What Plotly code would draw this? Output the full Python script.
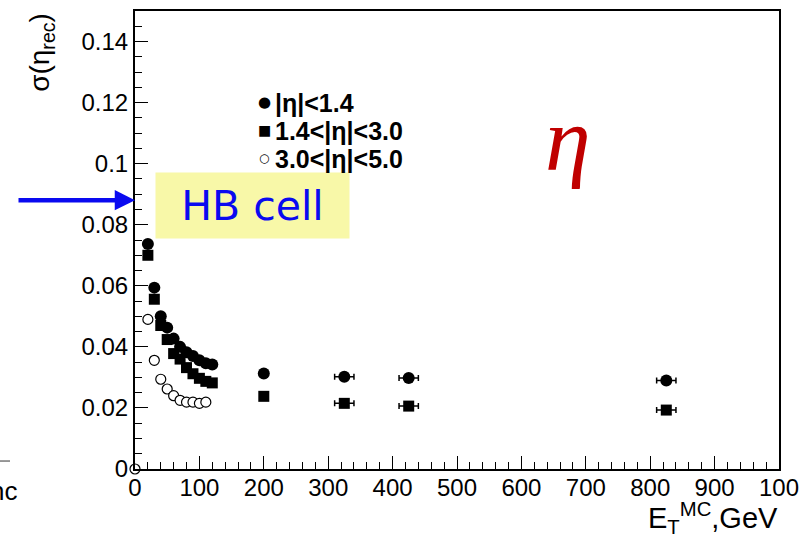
import plotly.graph_objects as go

# ---- data ----
et_central = [20, 30, 40, 50, 60, 70, 80, 90, 100, 110, 120, 200, 325, 425, 825]
sig_central = [0.0737, 0.0594, 0.0500, 0.0463, 0.0427, 0.0400, 0.0382, 0.0370, 0.0356, 0.0346, 0.0342,
               0.0313, 0.0302, 0.0298, 0.0290]
ex_central = [0, 0, 0, 0, 0, 0, 0, 0, 0, 0, 0, 4, 15, 15, 15]

et_endcap = [20, 30, 40, 50, 60, 70, 80, 90, 100, 110, 120, 200, 325, 425, 825]
sig_endcap = [0.0700, 0.0556, 0.0470, 0.0424, 0.0378, 0.0360, 0.0332, 0.0312, 0.0297, 0.0287, 0.0282,
              0.0238, 0.0215, 0.0206, 0.0193]
ex_endcap = [0, 0, 0, 0, 0, 0, 0, 0, 0, 0, 0, 4, 15, 15, 15]

et_forward = [0, 20, 30, 40, 50, 60, 70, 80, 90, 100, 110]
sig_forward = [0.0, 0.0490, 0.0356, 0.0294, 0.0262, 0.0240, 0.0225, 0.0219, 0.0219, 0.0215, 0.0219]

x_tickvals = [0, 100, 200, 300, 400, 500, 600, 700, 800, 900, 1000]
x_ticktext = ["0", "100", "200", "300", "400", "500", "600", "700", "800", "900", "100"]
y_tickvals = [0, 0.02, 0.04, 0.06, 0.08, 0.10, 0.12, 0.14]
y_ticktext = ["0", "0.02", "0.04", "0.06", "0.08", "0.1", "0.12", "0.14"]

legend_names = ["|η|<1.4", "1.4<|η|<3.0", "3.0<|η|<5.0"]
legend_glyphs = ["●", "■", "○"]

FONT = "Liberation Sans, Arial, sans-serif"

fig = go.Figure()
fig.add_trace(go.Scatter(
    x=et_central, y=sig_central, mode="markers", name=legend_names[0],
    marker=dict(symbol="circle", size=12, color="black"),
    error_x=dict(type="data", array=ex_central, color="black", thickness=1.5, width=3),
))
fig.add_trace(go.Scatter(
    x=et_endcap, y=sig_endcap, mode="markers", name=legend_names[1],
    marker=dict(symbol="square", size=11, color="black"),
    error_x=dict(type="data", array=ex_endcap, color="black", thickness=1.5, width=3),
))
fig.add_trace(go.Scatter(
    x=et_forward, y=sig_forward, mode="markers", name=legend_names[2],
    marker=dict(symbol="circle", size=10, color="white", line=dict(color="black", width=1.2)),
    cliponaxis=False,
))

L, R, T, B = 135, 33, 9, 68
W, H = 812, 537
pw, ph = W - L - R, H - T - B


def px(xp):
    return (xp - L) / pw


def py(yp):
    return (H - B - yp) / ph


fig.update_layout(
    width=W, height=H,
    margin=dict(l=L, r=R, t=T, b=B, pad=0),
    paper_bgcolor="white", plot_bgcolor="white",
    font=dict(family=FONT, size=24, color="black"),
    showlegend=False,
    xaxis=dict(range=[0, 1000], tickvals=x_tickvals, ticktext=x_ticktext,
               ticks="inside", ticklen=13, tickwidth=1, tickcolor="black",
               minor=dict(dtick=20, ticks="inside", ticklen=7, tickwidth=1, tickcolor="black"),
               showline=True, linecolor="black", linewidth=2, mirror=True,
               showgrid=False, zeroline=False, ticklabelstandoff=-4,
               tickfont=dict(family=FONT, size=24)),
    yaxis=dict(range=[0, 0.15], tickvals=y_tickvals, ticktext=y_ticktext,
               ticks="inside", ticklen=13, tickwidth=1, tickcolor="black",
               minor=dict(dtick=0.005, ticks="inside", ticklen=7, tickwidth=1, tickcolor="black"),
               showline=True, linecolor="black", linewidth=2, mirror=True,
               showgrid=False, zeroline=False,
               tickfont=dict(family=FONT, size=24)),
)

annotations = [
    dict(text="σ(η<sub>rec</sub>)", x=px(42), y=py(51), xref="paper", yref="paper",
         xanchor="center", yanchor="middle",
         textangle=-90, showarrow=False, font=dict(family=FONT, size=28)),
    dict(text="E<sub>T</sub><sup>MC</sup>,GeV", x=px(780), y=py(540), xref="paper", yref="paper",
         xanchor="right", yanchor="bottom", showarrow=False, font=dict(family=FONT, size=29)),
    dict(text="<i>η</i>", x=px(568), y=py(138), xref="paper", yref="paper",
         xanchor="center", yanchor="middle",
         showarrow=False, font=dict(family="Liberation Serif, Times New Roman, serif", size=92, color="#c00000")),
    dict(text="HB cell", x=px(252), y=py(204.5), xref="paper", yref="paper",
         xanchor="center", yanchor="middle",
         showarrow=False, width=193, height=65, bgcolor="#f8f8a8", borderpad=0,
         font=dict(family="DejaVu Sans, Verdana, sans-serif", size=41, color="#0a0af0")),
    dict(text="", x=px(135), y=py(199), xref="paper", yref="paper",
         ax=-118, ay=0, showarrow=True, arrowhead=2, arrowsize=0.9, arrowwidth=4.5,
         arrowcolor="#0a0af0", standoff=0),
    dict(text="nc", x=px(-12), y=py(491), xref="paper", yref="paper",
         xanchor="left", yanchor="middle", showarrow=False, font=dict(family=FONT, size=26)),
]

# legend block (text annotations)
legend_rows = [100, 128.5, 157]
glyph_sizes = [15, 14, 12]
for name, glyph, gsize, yrow in zip(legend_names, legend_glyphs, glyph_sizes, legend_rows):
    annotations.append(dict(text=glyph, x=px(264), y=py(yrow), xref="paper", yref="paper",
                            xanchor="center", yanchor="middle", showarrow=False,
                            font=dict(family="DejaVu Sans, sans-serif", size=gsize, color="black")))
    annotations.append(dict(text="<b>" + name + "</b>", x=px(273), y=py(yrow + 1), xref="paper", yref="paper",
                            xanchor="left", yanchor="middle", showarrow=False,
                            font=dict(family=FONT, size=25, color="black")))

fig.update_layout(annotations=annotations)
fig.add_shape(type="line", xref="paper", yref="paper", x0=px(0), x1=px(10), y0=py(461), y1=py(461),
              line=dict(color="#777777", width=1.5))

fig.write_html("out.html")
